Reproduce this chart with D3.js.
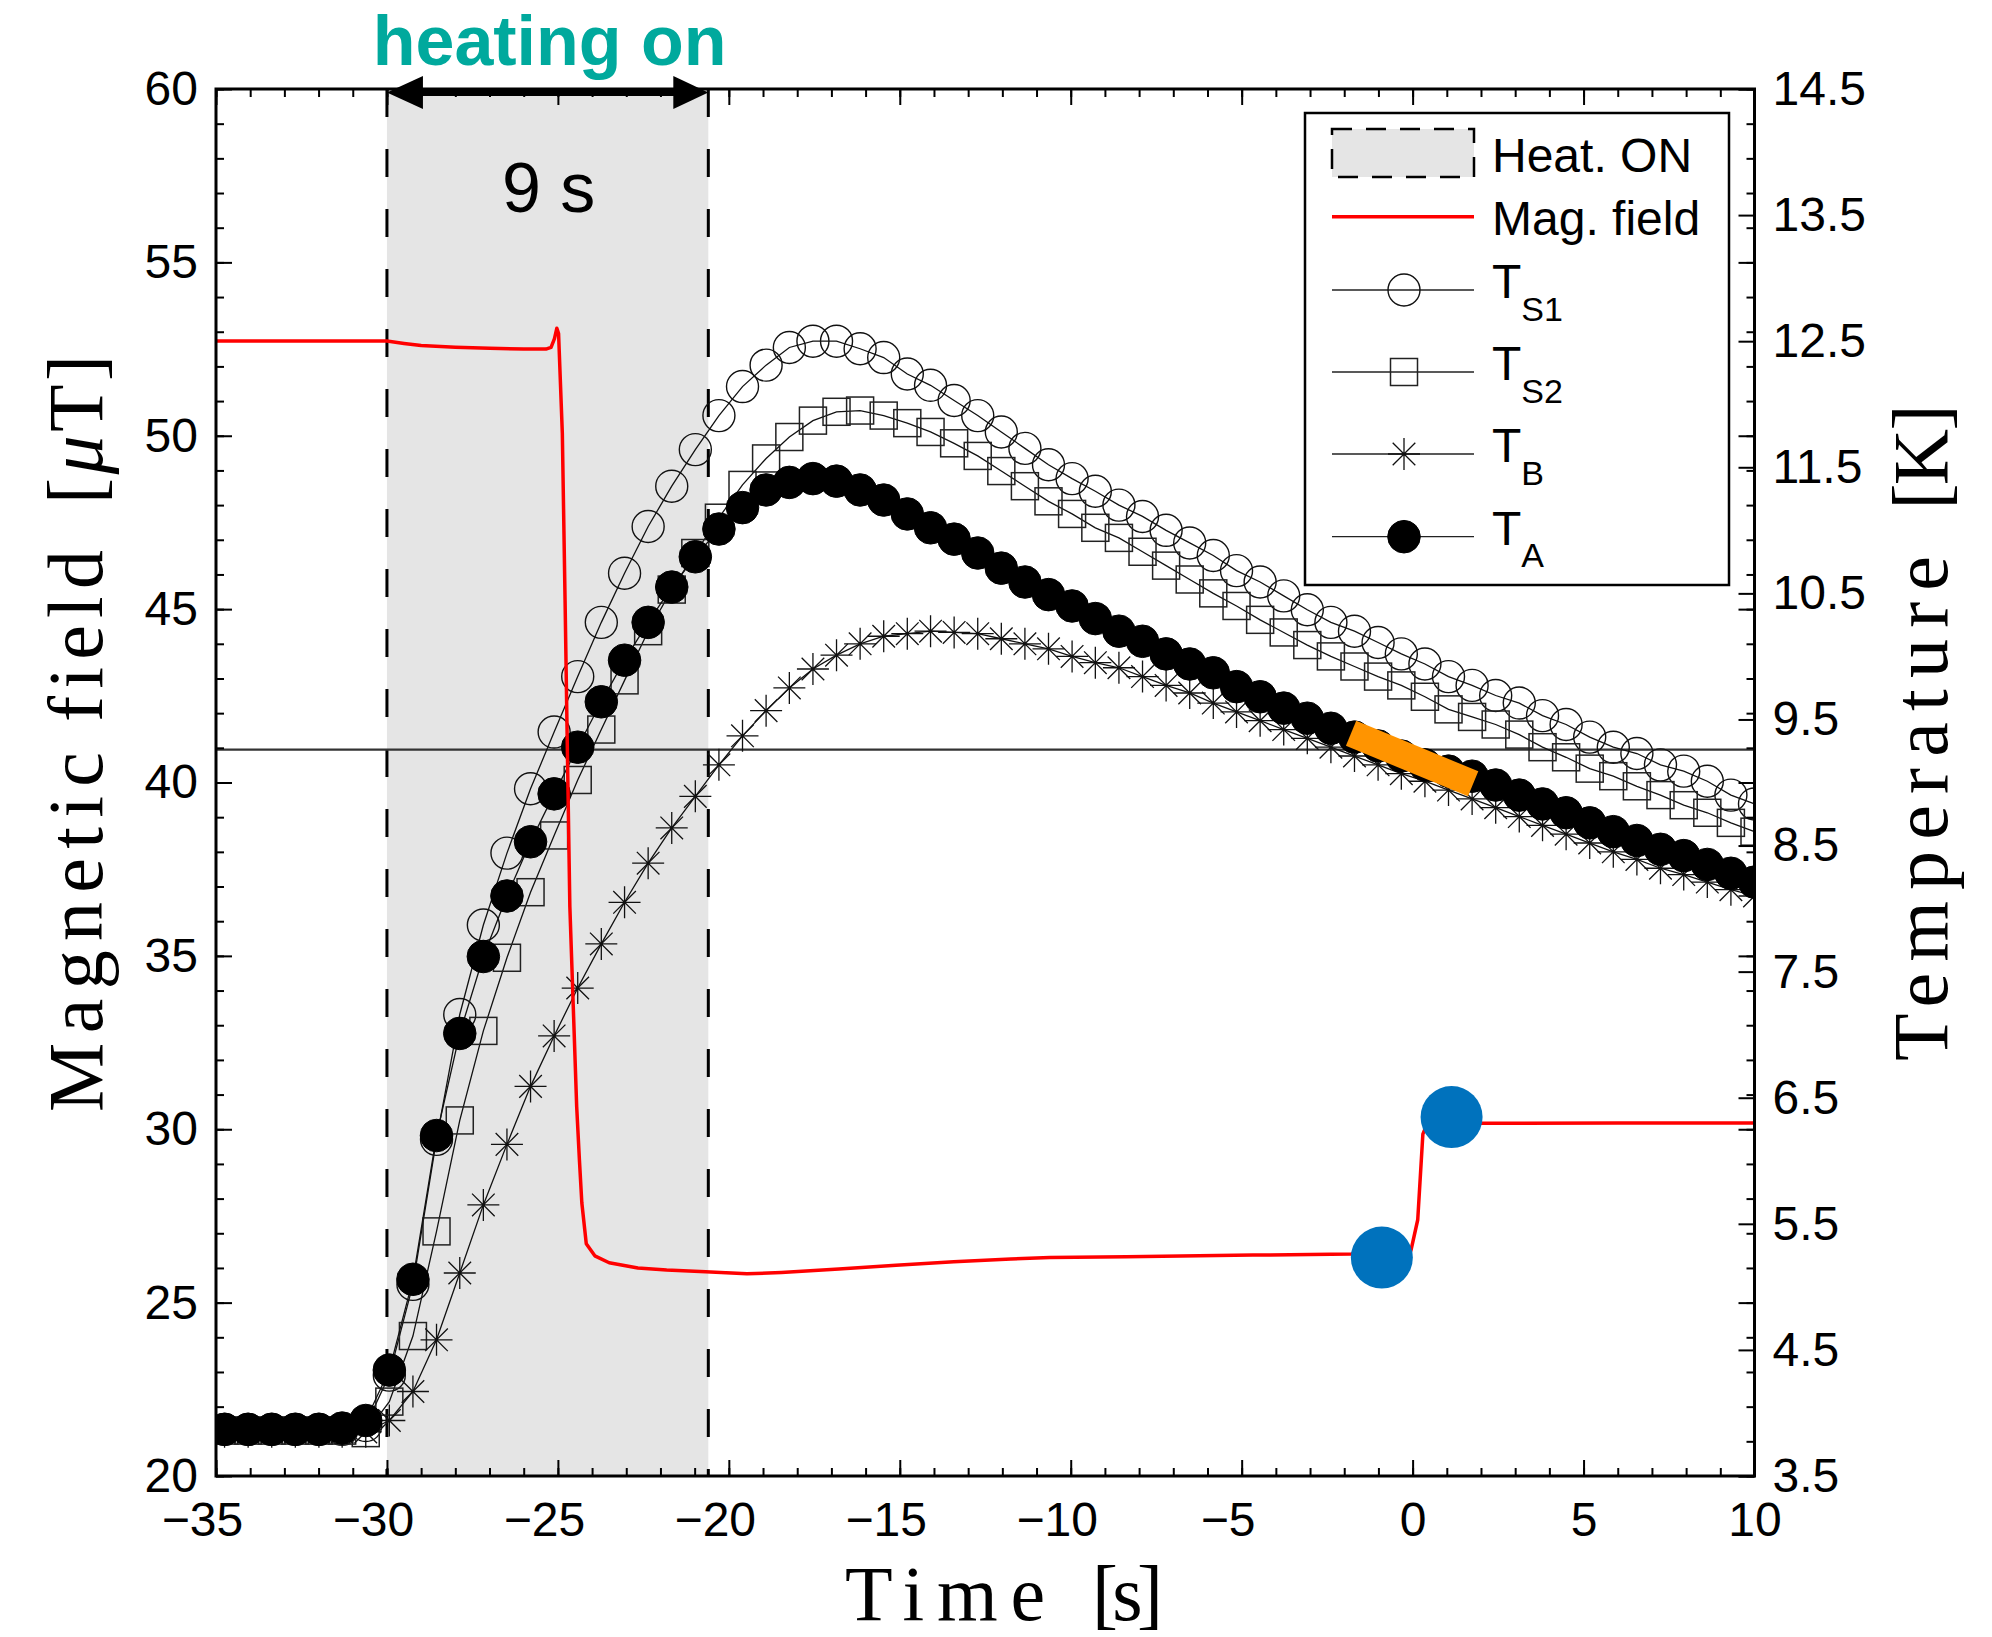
<!DOCTYPE html>
<html><head><meta charset="utf-8">
<script src="https://cdn.jsdelivr.net/npm/d3@7"></script>
<style>
html,body{margin:0;padding:0;background:#fff;}
svg{display:block;}
</style></head><body>
<svg id="chart" width="1992" height="1637"></svg>
<script>
// ---------------- data ----------------
const timeS = [-34.75,-34.06,-33.37,-32.68,-31.99,-31.31,-30.62,-29.93,-29.24,-28.55,
  -27.87,-27.18,-26.49,-25.80,-25.11,-24.42,-23.73,-23.05,-22.36,-21.67,
  -20.98,-20.29,-19.60,-18.91,-18.23,-17.54,-16.85,-16.16,-15.47,-14.78,
  -14.10,-13.41,-12.72,-12.03,-11.34,-10.65,-9.96,-9.28,-8.59,-7.90,
  -7.21,-6.52,-5.83,-5.15,-4.46,-3.77,-3.08,-2.39,-1.70,-1.01,
  -0.33,0.36,1.05,1.74,2.43,3.12,3.80,4.49,5.18,5.87,
  6.56,7.25,7.93,8.62,9.31,10.00];

const tS1 = [3.87,3.87,3.87,3.87,3.87,3.87,3.90,4.30,5.02,6.17,
  7.16,7.87,8.44,8.95,9.40,9.84,10.27,10.66,11.03,11.35,
  11.64,11.91,12.14,12.31,12.45,12.50,12.50,12.44,12.37,12.24,
  12.15,12.03,11.91,11.78,11.65,11.52,11.41,11.31,11.20,11.11,
  11.00,10.90,10.80,10.68,10.59,10.48,10.37,10.27,10.20,10.11,
  10.02,9.94,9.84,9.77,9.69,9.63,9.53,9.46,9.36,9.28,
  9.23,9.14,9.09,9.01,8.90,8.83];

const tS2 = [3.86,3.86,3.86,3.86,3.86,3.86,3.84,4.09,4.61,5.44,
  6.32,7.03,7.61,8.13,8.58,9.02,9.42,9.81,10.20,10.53,
  10.82,11.10,11.36,11.57,11.74,11.87,11.94,11.95,11.91,11.85,
  11.78,11.69,11.59,11.47,11.35,11.23,11.13,11.02,10.94,10.83,
  10.72,10.61,10.50,10.40,10.29,10.19,10.09,10.00,9.92,9.84,
  9.77,9.68,9.58,9.52,9.46,9.38,9.28,9.20,9.11,9.05,
  8.97,8.90,8.82,8.76,8.68,8.61];

const tB = [3.85,3.85,3.85,3.85,3.85,3.85,3.85,3.94,4.17,4.58,
  5.11,5.65,6.13,6.59,6.99,7.37,7.72,8.05,8.36,8.64,
  8.89,9.14,9.37,9.57,9.75,9.90,10.01,10.10,10.16,10.18,
  10.20,10.19,10.18,10.14,10.10,10.06,10.00,9.95,9.91,9.84,
  9.77,9.71,9.63,9.56,9.49,9.42,9.35,9.28,9.21,9.14,
  9.07,9.01,8.94,8.87,8.80,8.73,8.66,8.59,8.52,8.45,
  8.39,8.32,8.27,8.21,8.15,8.10];

const tA = [3.87,3.87,3.87,3.87,3.87,3.88,3.94,4.34,5.06,6.20,
  7.01,7.62,8.10,8.53,8.91,9.28,9.64,9.97,10.27,10.55,
  10.79,11.01,11.18,11.32,11.38,11.41,11.39,11.32,11.24,11.13,
  11.02,10.93,10.82,10.70,10.59,10.49,10.40,10.30,10.20,10.12,
  10.02,9.94,9.87,9.76,9.68,9.59,9.51,9.43,9.36,9.29,
  9.21,9.14,9.09,9.05,8.98,8.90,8.83,8.76,8.68,8.61,
  8.54,8.47,8.42,8.35,8.28,8.21];

const magT = [-35,-30.0,-29.5,-29.0,-28.0,-27.0,-26.0,-25.35,-25.2,-25.1,-25.03,-24.98,-24.87,-24.79,-24.73,
  -24.65,-24.55,-24.45,-24.37,-24.30,-24.17,-23.92,-23.50,-22.66,-21.82,-20.68,-19.47,-18.46,
  -16.78,-15.11,-13.42,-11.75,-10.61,-8.37,-4.67,-1.80,-0.05,0.15,0.30,0.42,2.0,6.0,10.0];
const magB = [52.73,52.73,52.66,52.60,52.55,52.52,52.50,52.50,52.55,52.80,53.10,52.95,50.07,45.26,41.40,
  36.42,33.53,30.65,29.11,27.88,26.70,26.35,26.15,26.00,25.94,25.89,25.83,25.87,
  25.97,26.08,26.18,26.26,26.30,26.32,26.37,26.40,26.50,27.39,29.86,30.15,30.17,30.18,30.18];

const blueT = [-0.90, 1.14];
const blueB = [26.30, 30.35];
const orangeT = [-1.80, 1.77];
const orangeK = [9.39, 8.99];
const heatSpan = [-30.0, -20.6];
const tcLine = 9.26;

const xTicks = [-35,-30,-25,-20,-15,-10,-5,0,5,10];
const yLeftTicks = [20,25,30,35,40,45,50,55,60];
const yRightTicks = [3.5,4.5,5.5,6.5,7.5,8.5,9.5,10.5,11.5,12.5,13.5,14.5];

const legendLabels = ["Heat. ON","Mag. field","T|S1","T|S2","T|B","T|A"];

// ---------------- layout ----------------
const M = {left:216, right:1754.5, top:89, bottom:1476};
const SANS = '"Liberation Sans", Arial, Helvetica, sans-serif';
const SERIF = '"Liberation Serif", "Times New Roman", serif';
const svg = d3.select('#chart');

const x = d3.scaleLinear().domain([-35,10]).range([M.left,M.right]);
const yB = d3.scaleLinear().domain([20,60]).range([M.bottom,M.top]);
const yT = d3.scaleLinear().domain([3.5,14.5]).range([M.bottom,M.top]);

svg.append('defs').append('clipPath').attr('id','clip')
  .append('rect').attr('x',M.left).attr('y',M.top).attr('width',M.right-M.left).attr('height',M.bottom-M.top);

const plot = svg.append('g').attr('clip-path','url(#clip)');

// heating region
plot.append('rect')
  .attr('x', x(heatSpan[0])).attr('y', M.top)
  .attr('width', x(heatSpan[1]) - x(heatSpan[0])).attr('height', M.bottom - M.top)
  .attr('fill', '#e5e5e5');
heatSpan.forEach(t => {
  plot.append('line').attr('x1',x(t)).attr('x2',x(t)).attr('y1',M.top).attr('y2',M.bottom)
    .attr('stroke','#000').attr('stroke-width',3).attr('stroke-dasharray','28,32');
});

// Tc line
plot.append('line').attr('x1',M.left).attr('x2',M.right).attr('y1',yT(tcLine)).attr('y2',yT(tcLine))
  .attr('stroke','#333').attr('stroke-width',2.2);

// temperature series
const asterPath = 'M0,-16V16M-16,0H16M-11.3,-11.3L11.3,11.3M-11.3,11.3L11.3,-11.3';
function drawMarker(g, type, cx, cy) {
  if (type === 'circle') {
    g.append('circle').attr('cx',cx).attr('cy',cy).attr('r',16).attr('fill','none').attr('stroke','#111').attr('stroke-width',1.4);
  } else if (type === 'square') {
    g.append('rect').attr('x',cx-13.5).attr('y',cy-13.5).attr('width',27).attr('height',27).attr('fill','none').attr('stroke','#222').attr('stroke-width',1.5);
  } else if (type === 'aster') {
    g.append('path').attr('d',asterPath).attr('transform',`translate(${cx},${cy})`).attr('fill','none').attr('stroke','#111').attr('stroke-width',1.3);
  } else if (type === 'filled') {
    g.append('circle').attr('cx',cx).attr('cy',cy).attr('r',16.3).attr('fill','#000').attr('stroke','#000').attr('stroke-width',1);
  }
}
const series = [
  {vals: tS1, type:'circle'},
  {vals: tS2, type:'square'},
  {vals: tB, type:'aster'},
  {vals: tA, type:'filled'}
];
const lineGen = d3.line().x(d=>x(d[0])).y(d=>yT(d[1]));
series.forEach(s => {
  const pts = timeS.map((t,i)=>[t, s.vals[i]]);
  const g = plot.append('g');
  g.append('path').attr('d', lineGen(pts)).attr('fill','none').attr('stroke','#111').attr('stroke-width',1.3);
  pts.forEach(p => drawMarker(g, s.type, x(p[0]), yT(p[1])));
});

// magnetic field
const magLine = d3.line().x(d=>x(d[0])).y(d=>yB(d[1]));
plot.append('path').attr('d', magLine(magT.map((t,i)=>[t,magB[i]])))
  .attr('fill','none').attr('stroke','#ff0000').attr('stroke-width',3.5).attr('stroke-linejoin','round');

// orange segment
plot.append('line')
  .attr('x1',x(orangeT[0])).attr('y1',yT(orangeK[0]))
  .attr('x2',x(orangeT[1])).attr('y2',yT(orangeK[1]))
  .attr('stroke','#ff9400').attr('stroke-width',27).attr('stroke-linecap','butt');

// blue dots
blueT.forEach((t,i) => {
  plot.append('circle').attr('cx',x(t)).attr('cy',yB(blueB[i])).attr('r',31).attr('fill','#0072bd');
});

// ---------------- axes ----------------
const axesG = svg.append('g');
function styleAxis(g) {
  g.select('.domain').remove();
  g.selectAll('line').attr('stroke','#000').attr('stroke-width',2);
  g.attr('font-family', SANS).attr('font-size', 48);
  g.selectAll('text').attr('fill','#000');
}
const xMinor = d3.range(-35, 10.001, 1);
const yMinor = d3.range(20, 60.001, 1);

// bottom
axesG.append('g').attr('transform',`translate(0,${M.bottom})`)
  .call(d3.axisBottom(x).tickValues(xMinor).tickSize(-8).tickSizeOuter(0).tickFormat(''))
  .call(styleAxis);
axesG.append('g').attr('transform',`translate(0,${M.bottom})`)
  .call(d3.axisBottom(x).tickValues(xTicks).tickSize(-16).tickSizeOuter(0).tickPadding(26)
    .tickFormat(d => d < 0 ? '\u2212' + Math.abs(d) : String(d)))
  .call(styleAxis)
  .call(g => g.selectAll('text')
    .attr('text-anchor', d => d < 0 ? 'end' : 'middle')
    .attr('x', d => d < 0 ? String(Math.abs(d)).length * 0.556 * 48 / 2 : 0));
// top (mirrored)
axesG.append('g').attr('transform',`translate(0,${M.top})`)
  .call(d3.axisTop(x).tickValues(xMinor).tickSize(-8).tickSizeOuter(0).tickFormat(''))
  .call(styleAxis);
axesG.append('g').attr('transform',`translate(0,${M.top})`)
  .call(d3.axisTop(x).tickValues(xTicks).tickSize(-16).tickSizeOuter(0).tickFormat(''))
  .call(styleAxis);
// left
axesG.append('g').attr('transform',`translate(${M.left},0)`)
  .call(d3.axisLeft(yB).tickValues(yMinor).tickSize(-8).tickSizeOuter(0).tickFormat(''))
  .call(styleAxis);
axesG.append('g').attr('transform',`translate(${M.left},0)`)
  .call(d3.axisLeft(yB).tickValues(yLeftTicks).tickSize(-16).tickSizeOuter(0).tickPadding(18).tickFormat(d3.format('d')))
  .call(styleAxis);
// right mirrored left ticks
axesG.append('g').attr('transform',`translate(${M.right},0)`)
  .call(d3.axisRight(yB).tickValues(yMinor).tickSize(-8).tickSizeOuter(0).tickFormat(''))
  .call(styleAxis);
axesG.append('g').attr('transform',`translate(${M.right},0)`)
  .call(d3.axisRight(yB).tickValues(yLeftTicks).tickSize(-16).tickSizeOuter(0).tickFormat(''))
  .call(styleAxis);
// right temperature axis
axesG.append('g').attr('transform',`translate(${M.right},0)`)
  .call(d3.axisRight(yT).tickValues(yRightTicks).tickSize(-16).tickSizeOuter(0).tickPadding(18).tickFormat(d3.format('.1f')))
  .call(styleAxis);

// box
axesG.append('rect').attr('x',M.left).attr('y',M.top).attr('width',M.right-M.left).attr('height',M.bottom-M.top)
  .attr('fill','none').attr('stroke','#000').attr('stroke-width',3);

// ---------------- axis titles ----------------
const titles = svg.append('g').attr('font-family', SERIF).attr('font-size', 78).attr('fill','#000');
function tpiece(xp, yp, rot, txt, len, italicPart) {
  const t = titles.append('text')
    .attr('transform', `translate(${xp},${yp})` + (rot ? ` rotate(${rot})` : ''))
    .attr('textLength', len).attr('lengthAdjust','spacing');
  if (italicPart) {
    t.append('tspan').text('[');
    t.append('tspan').attr('font-style','italic').text(italicPart);
    t.append('tspan').text('T]');
  } else t.text(txt);
}
tpiece(845, 1620, 0, 'Time', 200);
tpiece(1092, 1620, 0, '[s]', 71);
tpiece(101.7, 1112, -90, 'Magnetic', 360);
tpiece(101.7, 722, -90, 'field', 172);
tpiece(101.7, 504, -90, null, 149, '\u03bc');
tpiece(1946.7, 1061, -90, 'Temperature', 505);
tpiece(1946.7, 509.5, -90, '[K]', 105);

// ---------------- annotations ----------------
const ann = svg.append('g');
const ax0 = x(heatSpan[0]), ax1 = x(heatSpan[1]), ay = 92.5;
ann.append('line').attr('x1', ax0 + 30).attr('x2', ax1 - 30).attr('y1', ay).attr('y2', ay)
  .attr('stroke','#000').attr('stroke-width',7);
ann.append('path').attr('d', `M${ax0},${ay} L${ax0+36},${ay-16.5} L${ax0+36},${ay+16.5} Z`).attr('fill','#000');
ann.append('path').attr('d', `M${ax1},${ay} L${ax1-35},${ay-16.5} L${ax1-35},${ay+16.5} Z`).attr('fill','#000');

ann.append('text').attr('x', (ax0+ax1)/2 + 2).attr('y', 65).attr('text-anchor','middle')
  .attr('font-family', SANS).attr('font-weight','bold').attr('font-size',70).attr('fill','#00a99d')
  .text('heating on');
ann.append('text').attr('x', (ax0+ax1)/2 + 1).attr('y', 212).attr('text-anchor','middle')
  .attr('font-family', SANS).attr('font-size',70).attr('fill','#000')
  .text('9 s');

// ---------------- legend ----------------
const lg = svg.append('g').attr('font-family', SANS);
lg.append('rect').attr('x',1305).attr('y',113).attr('width',424).attr('height',472)
  .attr('fill','#fff').attr('stroke','#000').attr('stroke-width',2.5);
const lx0 = 1332, lx1 = 1474, lmx = 1404, ltx = 1492;
// Heat ON
lg.append('rect').attr('x',lx0).attr('y',129).attr('width',lx1-lx0).attr('height',48)
  .attr('fill','#e5e5e5').attr('stroke','#000').attr('stroke-width',2.5).attr('stroke-dasharray','20,14');
lg.append('text').attr('x',ltx).attr('y',172).attr('font-size',48).text(legendLabels[0]);
// Mag field
lg.append('line').attr('x1',lx0).attr('x2',lx1).attr('y1',216.7).attr('y2',216.7).attr('stroke','#ff0000').attr('stroke-width',3.5);
lg.append('text').attr('x',ltx).attr('y',235).attr('font-size',48).text(legendLabels[1]);
// temperature entries
const legYs = [290, 372, 454, 536.7];
const legTypes = ['circle','square','aster','filled'];
legYs.forEach((ly, k) => {
  lg.append('line').attr('x1',lx0).attr('x2',lx1).attr('y1',ly).attr('y2',ly).attr('stroke','#222').attr('stroke-width',1.3);
  drawMarker(lg, legTypes[k], lmx, ly);
  const parts = legendLabels[k+2].split('|');
  const t = lg.append('text').attr('x',ltx).attr('y',ly+8).attr('font-size',48);
  t.append('tspan').text(parts[0]);
  t.append('tspan').attr('font-size',34).attr('dy',22.7).text(parts[1]);
});
</script>
</body></html>
